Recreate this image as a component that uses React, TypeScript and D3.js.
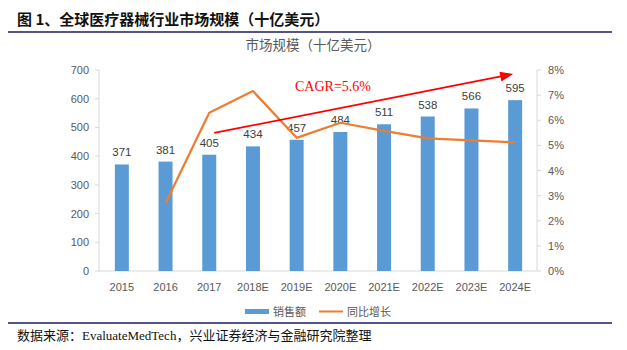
import { useEffect } from "react";
import * as d3 from "d3";

const years = ["2015", "2016", "2017", "2018E", "2019E", "2020E", "2021E", "2022E", "2023E", "2024E"];
const sales = [371, 381, 405, 434, 457, 484, 511, 538, 566, 595];
const growth = [null, 2.7, 6.3, 7.16, 5.3, 5.9, 5.58, 5.28, 5.2, 5.12];
const leftTicks = [0, 100, 200, 300, 400, 500, 600, 700];
const rightTicks = [0, 1, 2, 3, 4, 5, 6, 7, 8];
// CAGR arrow, in data units: [category, left-axis value]
const arrowFrom: [string, number] = ["2017", 481];
const arrowTo: [string, number] = ["2024E", 686];

const W = 627, H = 350;
const m = { left: 100, right: 537, top: 70, bottom: 271 };
const NAVY = "#545488";
const GRAY = "#595959";
const LABEL_FONT = "'Liberation Sans', Arial, sans-serif";
const CJK = "'Noto Sans CJK SC', sans-serif";

export default function App() {
  useEffect(() => { document.body.style.margin = "0"; }, []);

  const x = d3.scaleBand().domain(years).range([m.left, m.right]).paddingInner(0.68).paddingOuter(0.34);
  const cx = (c: string) => x(c)! + x.bandwidth() / 2;
  const y = d3.scaleLinear().domain([0, 700]).range([m.bottom, m.top]);
  const y2 = d3.scaleLinear().domain([0, 8]).range([m.bottom, m.top]);

  const pts = years.map((c, i) => [c, growth[i]] as [string, number | null]).filter((d): d is [string, number] => d[1] !== null);
  const line = d3.line<[string, number]>().x(d => cx(d[0])).y(d => y2(d[1]));

  const ax0 = cx(arrowFrom[0]) + 5, ay0 = y(arrowFrom[1]);
  const ax1 = cx(arrowTo[0]) - 2, ay1 = y(arrowTo[1]);
  const ang = Math.atan2(ay1 - ay0, ax1 - ax0);
  const hl = 13, hw = 5;
  const head = [
    [ax1, ay1],
    [ax1 - hl * Math.cos(ang) + hw * Math.sin(ang), ay1 - hl * Math.sin(ang) - hw * Math.cos(ang)],
    [ax1 - hl * Math.cos(ang) - hw * Math.sin(ang), ay1 - hl * Math.sin(ang) + hw * Math.cos(ang)],
  ].map(p => p.join(",")).join(" ");

  return (
    <svg width={W} height={H} style={{ display: "block", background: "#fff" }}>
      <text x={17} y={25} fontFamily={CJK} fontWeight={700} fontSize={15} fill="#111">图 1、全球医疗器械行业市场规模（十亿美元）</text>
      <line x1={8} x2={612} y1={32} y2={32} stroke={NAVY} strokeWidth={2} />
      <text x={313} y={50} textAnchor="middle" fontFamily={CJK} fontSize={13.5} fill={GRAY}>市场规模（十亿美元）</text>

      {/* axes */}
      <line x1={m.left - 1} x2={m.left - 1} y1={m.top} y2={m.bottom} stroke="#d9d9d9" />
      <line x1={m.right} x2={m.right} y1={m.top} y2={m.bottom} stroke="#d9d9d9" />
      <line x1={m.left - 1} x2={m.right} y1={m.bottom} y2={m.bottom} stroke="#d9d9d9" />
      {leftTicks.map(t => (
        <g key={"l" + t}>
          <line x1={m.left - 5} x2={m.left - 1} y1={y(t)} y2={y(t)} stroke="#d9d9d9" />
          <text x={89} y={y(t) + 4} textAnchor="end" fontFamily={LABEL_FONT} fontSize={11} fill={GRAY}>{t}</text>
        </g>
      ))}
      {rightTicks.map(t => (
        <g key={"r" + t}>
          <line x1={m.right} x2={m.right + 4} y1={y2(t)} y2={y2(t)} stroke="#d9d9d9" />
          <text x={548} y={y2(t) + 4} fontFamily={LABEL_FONT} fontSize={11} fill={GRAY}>{t}%</text>
        </g>
      ))}
      {years.map(c => (
        <text key={"x" + c} x={cx(c)} y={291} textAnchor="middle" fontFamily={LABEL_FONT} fontSize={11} fill={GRAY}>{c}</text>
      ))}

      {/* bars */}
      {years.map((c, i) => (
        <g key={"b" + c}>
          <rect x={x(c)} y={y(sales[i])} width={x.bandwidth()} height={m.bottom - y(sales[i])} fill="#5b9bd5" />
          <text x={cx(c)} y={y(sales[i]) - 8} textAnchor="middle" fontFamily={LABEL_FONT} fontSize={11.5} fill="#404040">{sales[i]}</text>
        </g>
      ))}

      <path d={line(pts)!} fill="none" stroke="#ed7d31" strokeWidth={2.25} strokeLinejoin="round" />

      {/* CAGR annotation */}
      <line x1={ax0} y1={ay0} x2={ax1 - 10 * Math.cos(ang)} y2={ay1 - 10 * Math.sin(ang)} stroke="#ff0000" strokeWidth={1.8} />
      <polygon points={head} fill="#ff0000" />
      <text x={295} y={91} fontFamily="'Liberation Serif', 'Times New Roman', serif" fontSize={14} fill="#ff0000">CAGR=5.6%</text>

      {/* legend */}
      <rect x={245} y={309} width={24} height={5} fill="#5b9bd5" />
      <text x={273} y={316} fontFamily={CJK} fontSize={11} fill={GRAY}>销售额</text>
      <line x1={319} x2={343} y1={311.5} y2={311.5} stroke="#ed7d31" strokeWidth={2} />
      <text x={347} y={316} fontFamily={CJK} fontSize={11} fill={GRAY}>同比增长</text>

      <line x1={8} x2={612} y1={323} y2={323} stroke={NAVY} strokeWidth={2} />
      <text x={17} y={340} fontFamily="'Liberation Serif', 'Noto Sans CJK SC', serif" fontSize={13} fill="#111">数据来源：EvaluateMedTech，兴业证券经济与金融研究院整理</text>
    </svg>
  );
}
